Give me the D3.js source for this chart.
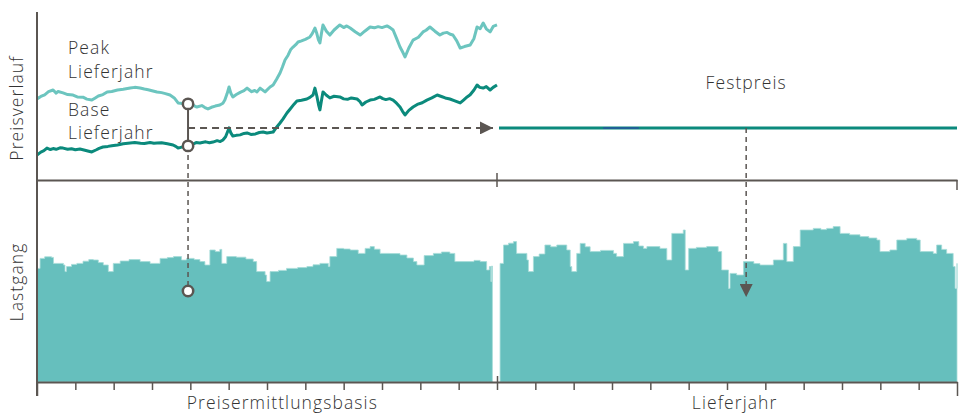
<!DOCTYPE html>
<html lang="de">
  <head>
   <meta http-equiv="Content-Type" content="text/html;charset=utf-8">
   <title>Festpreis</title>
   <script type="text/javascript" src="https://cdn.jsdelivr.net/npm/d3@7"></script>
   <style>
     body { margin: 0; background: #fff; }
     text { font-family: "Open Sans", Lato, sans-serif; font-weight: 300; fill: #333; }
   </style>
  </head>
  <body>
<script>

// months 0..24: first 12 = Preisermittlungsbasis, last 12 = Lieferjahr
// price curves, [month, price]
var peakPrice = [[0,63.8],[0.1,64.8],[0.2,65.5],[0.3,66.8],[0.42,67.5],[0.5,66.2],[0.55,66.9],[0.68,66.3],
  [0.8,65.6],[0.94,65.4],[1.05,64.6],[1.2,64.5],[1.3,63.7],[1.43,63.3],[1.52,64.2],[1.6,65],[1.72,65.6],
  [1.83,66.7],[1.95,66.9],[2.1,67.5],[2.25,67.8],[2.43,68.3],[2.55,68.6],[2.69,68.3],[2.8,67.9],[2.9,67.6],
  [3.0,67.2],[3.13,66.7],[3.25,66.4],[3.35,66],[3.47,65.4],[3.58,64.2],[3.68,62.1],[3.8,61.9],[3.94,61.7],
  [4.05,61.3],[4.17,60.4],[4.3,61],[4.38,60.2],[4.46,59.6],[4.55,60.3],[4.65,60.8],[4.77,61.25],[4.85,62],
  [4.9,63.3],[4.96,66],[5.01,68.75],[5.06,66],[5.11,64.6],[5.2,65.6],[5.3,66.5],[5.4,67.2],[5.48,68.3],
  [5.55,67.4],[5.6,66.8],[5.68,67.3],[5.74,66.7],[5.82,68.3],[5.95,66.7],[6.08,68.75],[6.16,69.6],[6.25,72],
  [6.34,74.6],[6.4,77],[6.47,80],[6.55,82],[6.62,84.4],[6.68,85.4],[6.75,86.4],[6.81,87.5],[6.9,88],[7.0,88.6],
  [7.12,89.6],[7.18,91],[7.25,93.3],[7.3,91],[7.34,88.5],[7.38,87.1],[7.42,91],[7.46,94.6],[7.55,92],
  [7.64,90.4],[7.75,92.5],[7.9,94.6],[8.0,93.5],[8.08,94.2],[8.17,93.3],[8.3,91.8],[8.43,90.4],[8.55,92],
  [8.69,93.75],[8.8,93.4],[8.9,93.9],[9.0,93.5],[9.13,94.2],[9.21,93.5],[9.29,92.5],[9.38,89],[9.47,85.4],
  [9.55,83],[9.6,81.25],[9.7,85],[9.81,88.3],[9.95,89.5],[10.07,91.7],[10.15,92.4],[10.25,93.75],[10.38,92],
  [10.51,90.4],[10.6,91.2],[10.7,91.5],[10.78,90.7],[10.85,90.4],[10.95,88],[11.04,85],[11.15,85.6],
  [11.3,86.25],[11.4,89],[11.48,93.75],[11.56,93],[11.64,95.4],[11.72,93],[11.82,91.7],[11.9,94],[12,94.6]]

var basePrice = [[0,40.4],[0.1,41.6],[0.18,42.2],[0.26,43.3],[0.35,42.7],[0.42,43.1],[0.5,42.8],[0.6,43.4],
  [0.68,43.3],[0.8,42.8],[0.9,43],[1.0,42.6],[1.12,42.9],[1.25,42.4],[1.35,42],[1.43,41.7],[1.55,42.6],
  [1.62,43.2],[1.72,43.75],[1.85,44],[1.95,44.3],[2.1,44.6],[2.25,45.1],[2.43,45.4],[2.55,45.6],[2.7,45.3],
  [2.8,45.2],[2.95,45.6],[3.05,45.3],[3.13,45.4],[3.25,45.5],[3.4,45.1],[3.55,44.6],[3.62,44],[3.68,43.3],
  [3.8,43.8],[3.94,44.2],[4.05,44.8],[4.15,45.6],[4.25,45.4],[4.4,45.9],[4.5,45.5],[4.59,45.8],[4.7,46.4],
  [4.78,46],[4.85,46.7],[4.92,48],[5.01,51.7],[5.06,49.5],[5.11,48.3],[5.2,48.6],[5.3,48.8],[5.4,49.4],
  [5.48,49.6],[5.58,49],[5.7,49.2],[5.8,49.8],[5.9,50],[6.0,49.6],[6.08,49.8],[6.16,50],[6.25,52],
  [6.34,53.75],[6.42,55.5],[6.52,57.9],[6.6,59.5],[6.7,61.5],[6.78,62.9],[6.9,63.2],[7.04,63.75],[7.12,64.4],
  [7.2,65.4],[7.25,68.3],[7.3,65],[7.35,61],[7.38,59.2],[7.42,63],[7.46,66.7],[7.55,65.3],[7.64,64.2],
  [7.75,64.9],[7.9,64.6],[8.0,63.8],[8.1,63.6],[8.2,64.2],[8.35,63.75],[8.42,62.8],[8.48,61.25],[8.58,62.5],
  [8.69,63.3],[8.8,63.6],[8.95,64.6],[9.02,63.9],[9.1,63.5],[9.2,63.9],[9.29,63.3],[9.38,62],[9.47,60.4],
  [9.54,58.5],[9.6,57.1],[9.7,59],[9.81,60.4],[9.92,61.5],[10.05,62.2],[10.17,63.3],[10.3,64.2],[10.44,65.4],
  [10.55,64.8],[10.65,64.2],[10.77,63.75],[10.9,63],[11.04,62.1],[11.12,63.2],[11.22,64.6],[11.3,65.5],
  [11.4,67.5],[11.48,69.6],[11.55,68.6],[11.64,68.3],[11.72,68.9],[11.82,67.5],[11.9,68.6],[12,69.6]]

var festpreis = 51.7
var stichtag = 3.94      // month when the price is fixed
var lieferPunkt = 18.5   // month of the arrow into the load curve

// load profile (Lastgang), [month, load]
var lastBasis = [[0,56.8],[0.08,61.8],[0.2,62.6],[0.38,62.3],[0.43,59.3],[0.69,58.5],[0.73,55.2],[0.77,57.7],
  [0.9,58.8],[1.04,59.3],[1.2,60.4],[1.35,61.2],[1.47,61],[1.6,59.7],[1.73,58.5],[1.86,55.2],[1.99,59.3],
  [2.17,60.5],[2.4,61.2],[2.69,60.2],[2.95,59.3],[3.21,61.8],[3.4,62.2],[3.56,62.7],[3.77,61],[3.9,61.8],
  [4.1,61.2],[4.25,60.2],[4.38,58.5],[4.51,66],[4.65,65.2],[4.77,66.3],[4.82,59.3],[4.95,62.7],[5.2,62.4],
  [5.45,61.5],[5.64,60.2],[5.73,55.2],[5.95,53.5],[5.99,50.2],[6.08,55.2],[6.3,55.8],[6.51,56.8],[6.8,57.2],
  [7.04,57.7],[7.2,58.6],[7.38,59.3],[7.6,57.7],[7.64,62.7],[7.82,66.8],[8.0,66.5],[8.17,66],[8.38,64.3],
  [8.56,66.8],[8.69,67.7],[8.8,66.4],[8.95,64.3],[9.2,64.2],[9.47,63.5],[9.65,62],[9.82,60.2],[9.91,58.5],
  [10.1,63.2],[10.34,64.3],[10.55,65],[10.77,64.3],[10.9,60.2],[11.21,60.2],[11.4,60.8],[11.56,60.2],
  [11.73,56],[11.8,57.7],[11.84,50.2],[11.86,58],[11.88,58]]

var lastLiefer = [[12.08,59.3],[12.17,68.5],[12.3,69.4],[12.43,70.2],[12.51,64.3],[12.78,61],[12.82,55.2],
  [12.95,62.7],[13.1,64],[13.25,68.5],[13.4,67.6],[13.56,68.5],[13.82,66],[13.91,57.7],[13.95,55.2],
  [14.08,64.3],[14.17,69.3],[14.3,67.6],[14.43,65.2],[14.7,65.8],[15.04,64.3],[15.12,62.7],[15.3,69.3],
  [15.56,70.2],[15.7,68],[15.82,66.8],[15.91,67.7],[16.25,66.8],[16.43,61],[16.56,74.3],[16.86,76],
  [16.91,56],[17,66.8],[17.2,67.3],[17.47,67.7],[17.77,65.2],[17.86,56],[18.04,46.8],[18.08,54.3],
  [18.25,53.5],[18.43,60.2],[18.51,60.2],[18.7,59.2],[18.86,58.5],[19.21,61],[19.47,69.3],[19.56,60.2],
  [19.73,67.7],[19.91,76],[20.25,76.8],[20.45,76.2],[20.6,76.8],[20.77,77.7],[20.95,74.3],[21.2,73.6],
  [21.47,72.7],[21.7,72],[21.91,71],[21.99,65.2],[22.25,66],[22.43,71],[22.69,71.8],[22.95,71],[23.04,65.2],
  [23.38,64.3],[23.47,68.5],[23.6,66.3],[23.73,64.3],[23.9,57.7],[23.95,46.8],[24,59.3]]

var stichtagLast = 45.5   // load value where the dashed line ends
var monate = d3.range(0, 25)

var width = 965, height = 414
var axisColor = "#5b5652"

var x = d3.scaleLinear().domain([0, 24]).range([37, 957])
var yPrice = d3.scaleLinear().domain([30, 100]).range([180, 12])
var yLast = d3.scaleLinear().domain([0, 100]).range([382, 182])

var svg = d3.select("body").append("svg")
  .attr("width", width)
  .attr("height", height)

svg.append("defs").append("marker")
  .attr("id", "pfeil")
  .attr("viewBox", "0 0 10 10")
  .attr("refX", 10).attr("refY", 5)
  .attr("markerWidth", 17).attr("markerHeight", 13)
  .attr("markerUnits", "userSpaceOnUse")
  .attr("orient", "auto")
  .append("path").attr("d", "M0,0 L10,5 L0,10 Z").attr("fill", axisColor)

// load areas
var area = d3.area()
  .curve(d3.curveStepAfter)
  .x(function(d){ return x(d[0]) })
  .y0(yLast(0))
  .y1(function(d){ return yLast(d[1]) })

;[lastBasis, lastLiefer].forEach(function(serie){
  svg.append("path").datum(serie)
    .attr("d", area)
    .attr("fill", "#66bfbd")
    .attr("stroke", "#a6dcd8")
    .attr("stroke-width", 0.8)
})

// price lines
var line = d3.line()
  .x(function(d){ return x(d[0]) })
  .y(function(d){ return yPrice(d[1]) })

svg.append("path").datum(peakPrice)
  .attr("d", line).attr("fill", "none")
  .attr("stroke", "#6cc5bf").attr("stroke-width", 3).attr("stroke-linejoin", "round")

svg.append("path").datum(basePrice)
  .attr("d", line).attr("fill", "none")
  .attr("stroke", "#0b8a7c").attr("stroke-width", 3).attr("stroke-linejoin", "round")

// festpreis line
svg.append("line")
  .attr("x1", x(12) + 2).attr("x2", x(24))
  .attr("y1", yPrice(festpreis)).attr("y2", yPrice(festpreis))
  .attr("stroke", "#0b8a7c").attr("stroke-width", 3)
svg.append("line")
  .attr("x1", x(14.77)).attr("x2", x(15.7))
  .attr("y1", yPrice(festpreis)).attr("y2", yPrice(festpreis))
  .attr("stroke", "#1f5f95").attr("stroke-width", 2)

// axes
var axisTop = d3.axisBottom(x).tickValues([12, 24]).tickSize(0).tickFormat("")
var gTop = svg.append("g").attr("transform", "translate(0," + yPrice(30) + ")").call(axisTop)
gTop.select(".domain").attr("stroke", axisColor).attr("stroke-width", 2)
svg.append("line").attr("x1", x(12)).attr("x2", x(12))
  .attr("y1", yPrice(30) - 7).attr("y2", yPrice(30) + 7)
  .attr("stroke", axisColor).attr("stroke-width", 1.5)
svg.append("line").attr("x1", x(24)).attr("x2", x(24))
  .attr("y1", yPrice(30)).attr("y2", yPrice(30) + 10)
  .attr("stroke", axisColor).attr("stroke-width", 1.5)

var axisBottom = d3.axisBottom(x).tickValues(monate).tickSize(8).tickFormat("").tickSizeOuter(0)
var gBottom = svg.append("g").attr("transform", "translate(0," + yLast(0) + ")").call(axisBottom)
gBottom.select(".domain").attr("stroke", axisColor).attr("stroke-width", 2)
gBottom.selectAll(".tick line").attr("stroke", axisColor).attr("stroke-width", 1.5)
  .attr("y1", function(d){ return d == 12 ? -6 : 0 })
  .attr("y2", function(d){ return (d == 0 || d == 24) ? 14 : 8 })

svg.append("line")
  .attr("x1", x(0)).attr("x2", x(0))
  .attr("y1", 12).attr("y2", yLast(0) + 14)
  .attr("stroke", axisColor).attr("stroke-width", 2)

// dashed guides
svg.append("line")
  .attr("x1", x(stichtag)).attr("x2", x(12) - 4)
  .attr("y1", yPrice(festpreis)).attr("y2", yPrice(festpreis))
  .attr("stroke", axisColor).attr("stroke-width", 2).attr("stroke-dasharray", "7,5")
  .attr("marker-end", "url(#pfeil)")

svg.append("line")
  .attr("x1", x(stichtag)).attr("x2", x(stichtag))
  .attr("y1", yPrice(44.2)).attr("y2", yLast(stichtagLast))
  .attr("stroke", axisColor).attr("stroke-width", 1.5).attr("stroke-dasharray", "5,4")

svg.append("line")
  .attr("x1", x(lieferPunkt)).attr("x2", x(lieferPunkt))
  .attr("y1", yPrice(festpreis)).attr("y2", yLast(42.5))
  .attr("stroke", axisColor).attr("stroke-width", 1.5).attr("stroke-dasharray", "5,4")
  .attr("marker-end", "url(#pfeil)")

svg.append("line")
  .attr("x1", x(stichtag)).attr("x2", x(stichtag))
  .attr("y1", yPrice(61.7)).attr("y2", yPrice(44.2))
  .attr("stroke", axisColor).attr("stroke-width", 2)

var punkte = [[stichtag, yPrice(61.7)], [stichtag, yPrice(44.2)], [stichtag, yLast(stichtagLast)]]
svg.selectAll("circle.punkt").data(punkte).enter().append("circle")
  .attr("class", "punkt")
  .attr("cx", function(d){ return x(d[0]) })
  .attr("cy", function(d){ return d[1] })
  .attr("r", 5.2)
  .attr("fill", "white")
  .attr("stroke", axisColor)
  .attr("stroke-width", 2.5)

// labels
function label(txt, px, py, anchor){
  return svg.append("text").attr("x", px).attr("y", py)
    .attr("text-anchor", anchor || "start")
    .attr("font-size", 17.5).attr("letter-spacing", 1.1)
    .text(txt)
}
label("Peak", 68, 54)
label("Lieferjahr", 68, 78)
label("Base", 68, 116)
label("Lieferjahr", 68, 139)
label("Festpreis", x(lieferPunkt), 89, "middle")
label("Preisermittlungsbasis", x(6.4), 409, "middle")
label("Lieferjahr", x(18.2), 409, "middle")

svg.append("text").attr("transform", "translate(23," + yPrice(60) + ") rotate(-90)")
  .attr("text-anchor", "middle").attr("font-size", 17.5).attr("letter-spacing", 1.1)
  .text("Preisverlauf")
svg.append("text").attr("transform", "translate(23," + yLast(50) + ") rotate(-90)")
  .attr("text-anchor", "middle").attr("font-size", 17.5).attr("letter-spacing", 1.1)
  .text("Lastgang")

</script>
  </body>
</html>
